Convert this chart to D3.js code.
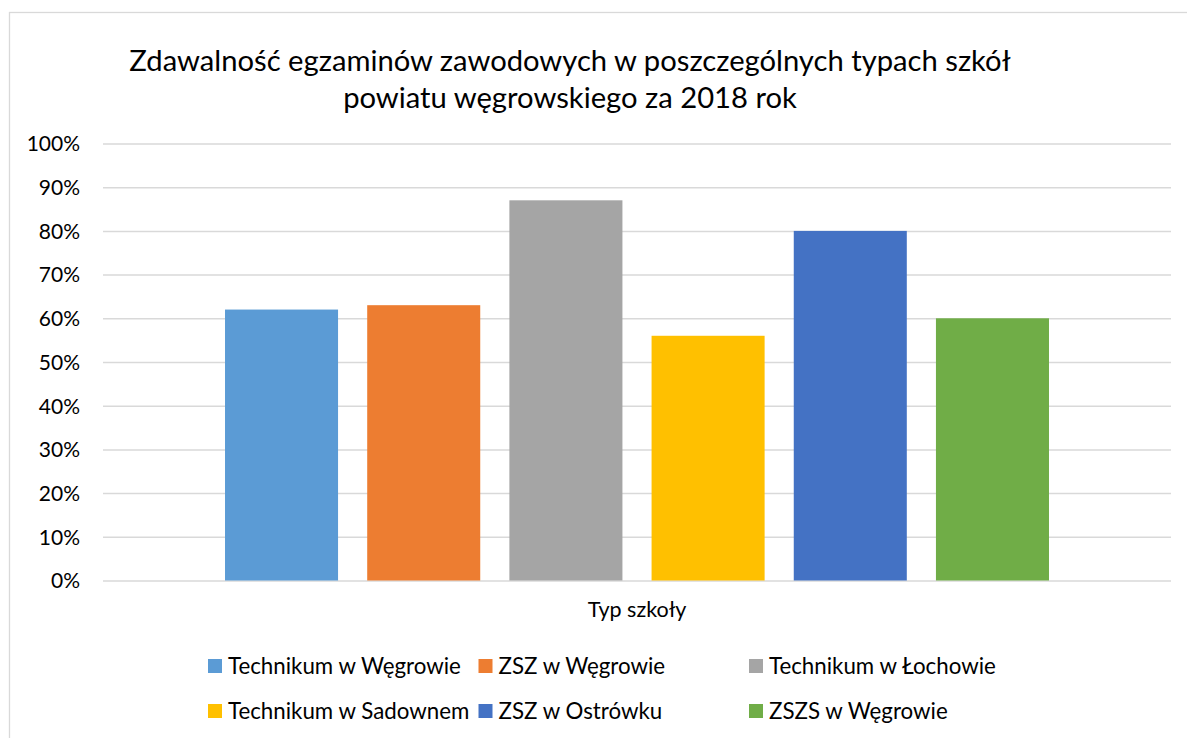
<!DOCTYPE html>
<html>
<head>
<meta charset="utf-8">
<script src="https://cdn.jsdelivr.net/npm/d3@7"></script>
<style>
  body { margin: 0; background: #fff; }
  svg text { font-family: Lato, "Noto Sans", sans-serif; fill: #000; }
</style>
</head>
<body>
<div id="chart"></div>
<script>
// data
var categories = ['Typ szkoły'];
var schools = ['Technikum w Węgrowie', 'ZSZ w Węgrowie', 'Technikum w Łochowie',
               'Technikum w Sadownem', 'ZSZ w Ostrówku', 'ZSZS w Węgrowie'];
var passRates = [0.62, 0.63, 0.87, 0.56, 0.80, 0.60];
var colors = ['#5B9BD5', '#ED7D31', '#A5A5A5', '#FFC000', '#4472C4', '#70AD47'];
var yTicks = [0, 0.1, 0.2, 0.3, 0.4, 0.5, 0.6, 0.7, 0.8, 0.9, 1];
var titleLines = ['Zdawalność egzaminów zawodowych w poszczególnych typach szkół',
                  'powiatu węgrowskiego za 2018 rok'];

var W = 1187, H = 738;
var plot = { left: 103, right: 1171, top: 143.5, bottom: 580.5 };

var svg = d3.select('#chart').append('svg')
  .attr('width', W)
  .attr('height', H);

// chart frame (cut off at right / bottom like the original)
svg.append('rect')
  .attr('x', 9.5).attr('y', 12.5)
  .attr('width', 1300).attr('height', 900)
  .attr('fill', '#fff')
  .attr('stroke', '#D9D9D9')
  .attr('stroke-width', 1.3);

// title
svg.append('g').selectAll('text')
  .data(titleLines)
  .enter().append('text')
  .attr('x', 570)
  .attr('y', function(d, i){ return 71 + i * 36.5; })
  .attr('text-anchor', 'middle')
  .style('font-size', '29.2px')
  .text(function(d){ return d; });

// scales
var y = d3.scaleLinear().domain([0, 1]).range([plot.bottom, plot.top]);

var x0 = d3.scaleBand()
  .domain(categories)
  .range([plot.left, plot.right])
  .paddingInner(0)
  .paddingOuter(0.1259);

var x1 = d3.scaleBand()
  .domain(schools)
  .range([0, x0.bandwidth()])
  .paddingInner(0.205)
  .paddingOuter(0.1027);

// gridlines
var yAxis = d3.axisLeft(y)
  .tickValues(yTicks)
  .tickSize(-(plot.right - plot.left))
  .tickPadding(23)
  .tickFormat(d3.format('.0%'));

var gy = svg.append('g')
  .attr('transform', 'translate(' + plot.left + ',0)')
  .call(yAxis);
gy.select('.domain').remove();
gy.selectAll('.tick line')
  .attr('stroke', '#D9D9D9')
  .attr('stroke-width', 1.5);
gy.selectAll('.tick text')
  .style('font-size', '21px')
  .attr('dy', '0.35em');

// bars
var groups = svg.append('g').selectAll('g')
  .data(categories)
  .enter().append('g')
  .attr('transform', function(d){ return 'translate(' + x0(d) + ',0)'; });

groups.selectAll('rect')
  .data(function(){ return schools.map(function(s, i){ return { name: s, value: passRates[i], color: colors[i] }; }); })
  .enter().append('rect')
  .attr('x', function(d){ return x1(d.name); })
  .attr('y', function(d){ return y(d.value); })
  .attr('width', x1.bandwidth())
  .attr('height', function(d){ return y(0) - y(d.value); })
  .attr('fill', function(d){ return d.color; });

// category label
svg.append('g').selectAll('text')
  .data(categories)
  .enter().append('text')
  .attr('x', function(d){ return x0(d) + x0.bandwidth() / 2; })
  .attr('y', 617)
  .attr('text-anchor', 'middle')
  .style('font-size', '21.5px')
  .text(function(d){ return d; });

// legend: 3 columns, 2 rows
var legCols = 3, legX = 208, legColW = 270.5, legY = 666, legRowH = 45;
var leg = svg.append('g').selectAll('g')
  .data(schools)
  .enter().append('g')
  .attr('transform', function(d, i){
    return 'translate(' + (legX + (i % legCols) * legColW) + ',' + (legY + Math.floor(i / legCols) * legRowH) + ')';
  });

leg.append('rect')
  .attr('x', 0).attr('y', -7)
  .attr('width', 14).attr('height', 14)
  .attr('fill', function(d, i){ return colors[i]; });

leg.append('text')
  .attr('x', 20)
  .attr('dy', '0.35em')
  .style('font-size', '22.3px')
  .text(function(d){ return d; });
</script>
</body>
</html>
